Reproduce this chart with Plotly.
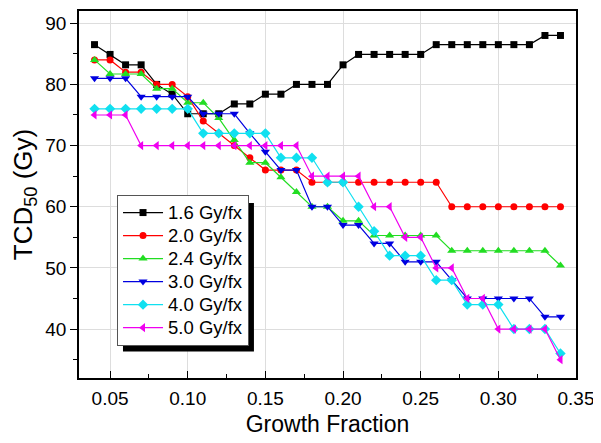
import plotly.graph_objects as go

growth_fraction = [round(0.04 + 0.01 * i, 2) for i in range(31)]

tcd_16 = [86.5, 84.9, 83.2, 83.2, 80.0, 78.4, 75.2, 75.2, 75.2, 76.8, 76.8, 78.4, 78.4,
          80.0, 80.0, 80.0, 83.2, 84.9, 84.9, 84.9, 84.9, 84.9, 86.5, 86.5, 86.5, 86.5,
          86.5, 86.5, 86.5, 88.0, 88.0]
tcd_20 = [84.0, 84.0, 82.0, 82.0, 80.0, 80.0, 78.0, 74.0, 72.0, 70.0, 68.0, 66.0, 66.0,
          66.0, 64.0, 64.0, 64.0, 64.0, 64.0, 64.0, 64.0, 64.0, 64.0, 60.0, 60.0, 60.0,
          60.0, 60.0, 60.0, 60.0, 60.0]
tcd_24 = [84.0, 81.7, 81.7, 81.7, 79.3, 79.3, 77.0, 77.0, 74.5, 70.9, 67.2, 67.2, 64.8,
          62.4, 60.0, 60.0, 57.7, 57.7, 55.3, 55.3, 55.3, 55.3, 55.3, 52.8, 52.8, 52.8,
          52.8, 52.8, 52.8, 52.8, 50.4]
tcd_30 = [81.0, 81.0, 81.0, 78.0, 78.0, 78.0, 78.0, 75.2, 75.2, 75.2, 72.0, 69.0, 66.0,
          66.0, 60.0, 60.0, 57.0, 57.0, 54.0, 54.0, 51.0, 51.0, 51.0, 48.0, 45.0, 45.0,
          45.0, 45.0, 45.0, 42.0, 42.0]
tcd_40 = [76.0, 76.0, 76.0, 76.0, 76.0, 76.0, 76.0, 72.0, 72.0, 72.0, 72.0, 72.0, 68.0,
          68.0, 68.0, 64.0, 64.0, 60.0, 56.0, 52.0, 52.0, 52.0, 48.0, 48.0, 44.0, 44.0,
          44.0, 40.0, 40.0, 40.0, 36.0]
tcd_50 = [75.0, 75.0, 75.0, 70.0, 70.0, 70.0, 70.0, 70.0, 70.0, 70.0, 70.0, 70.0, 70.0,
          70.0, 65.0, 65.0, 65.0, 65.0, 60.0, 60.0, 55.0, 55.0, 50.0, 50.0, 45.0, 45.0,
          40.0, 40.0, 40.0, 40.0, 35.0]

series_names = ["1.6 Gy/fx", "2.0 Gy/fx", "2.4 Gy/fx", "3.0 Gy/fx", "4.0 Gy/fx", "5.0 Gy/fx"]
series_values = [tcd_16, tcd_20, tcd_24, tcd_30, tcd_40, tcd_50]
colors = ["#000000", "#FF0000", "#22DD22", "#0000E0", "#10E0F0", "#F000F0"]
symbols = ["square", "circle", "triangle-up", "triangle-down", "diamond", "triangle-left"]
sizes = [7, 7, 8, 8, 8, 8]

x_ticks = [0.05, 0.10, 0.15, 0.20, 0.25, 0.30, 0.35]
x_tick_text = ["0.05", "0.10", "0.15", "0.20", "0.25", "0.30", "0.35"]
y_ticks = [40, 50, 60, 70, 80, 90]

FONT = "Liberation Sans, Arial, sans-serif"

fig = go.Figure()
for name, vals, c, s, sz in zip(series_names, series_values, colors, symbols, sizes):
    fig.add_trace(go.Scatter(
        x=growth_fraction, y=vals, mode="lines+markers",
        name="<span style='font-size:18.5px'>" + name + "</span>",
        line=dict(color=c, width=1.2),
        marker=dict(color=c, symbol=s, size=sz, line=dict(width=0)),
    ))

# legend drop shadow
fig.add_shape(type="rect", xref="paper", yref="paper",
              x0=0.0885, x1=0.352, y0=0.072, y1=0.477,
              fillcolor="black", line=dict(width=0), layer="above")

# page body has an 8px margin, so the figure is shrunk by 8px and the margins compensate
fig.update_layout(
    width=593, height=435,
    margin=dict(l=71, r=25, t=3, b=65, autoexpand=False),
    paper_bgcolor="white", plot_bgcolor="white",
    font=dict(family=FONT, color="black"),
    showlegend=True,
    legend=dict(
        x=0.0765, y=0.4985, xanchor="left", yanchor="top",
        bgcolor="white", bordercolor="#555555", borderwidth=1,
        font=dict(size=15.4, family=FONT), itemwidth=40,
        tracegroupgap=0,
    ),
    xaxis=dict(
        range=[0.03, 0.35], tickvals=x_ticks, ticktext=x_tick_text, automargin=False,
        ticks="inside", ticklen=7, tickwidth=1.2, tickcolor="black",
        showline=True, linecolor="black", linewidth=1.8, mirror=True,
        showgrid=True, gridcolor="#DDDDDD", gridwidth=1, zeroline=False,
        tickfont=dict(size=19, family=FONT), ticklabelstandoff=2,
        minor=dict(ticks="inside", ticklen=4, tickwidth=1, tickcolor="black",
                   dtick=0.025, tick0=0.025, showgrid=False),
        title=dict(text="Growth Fraction", font=dict(size=23, family=FONT), standoff=8),
    ),
    yaxis=dict(
        range=[32, 92], tickvals=y_ticks, automargin=False,
        ticks="outside", ticklen=7, tickwidth=1.2, tickcolor="black",
        showline=True, linecolor="black", linewidth=1.8, mirror=True,
        showgrid=True, gridcolor="#DDDDDD", gridwidth=1, zeroline=False,
        tickfont=dict(size=19, family=FONT),
        minor=dict(ticks="outside", ticklen=4, tickwidth=1, tickcolor="black",
                   dtick=5, tick0=35, showgrid=False),
        title=dict(text="TCD<sub>50</sub> (Gy)", font=dict(size=26, family=FONT), standoff=16),
    ),
)

fig.write_html("out.html")
